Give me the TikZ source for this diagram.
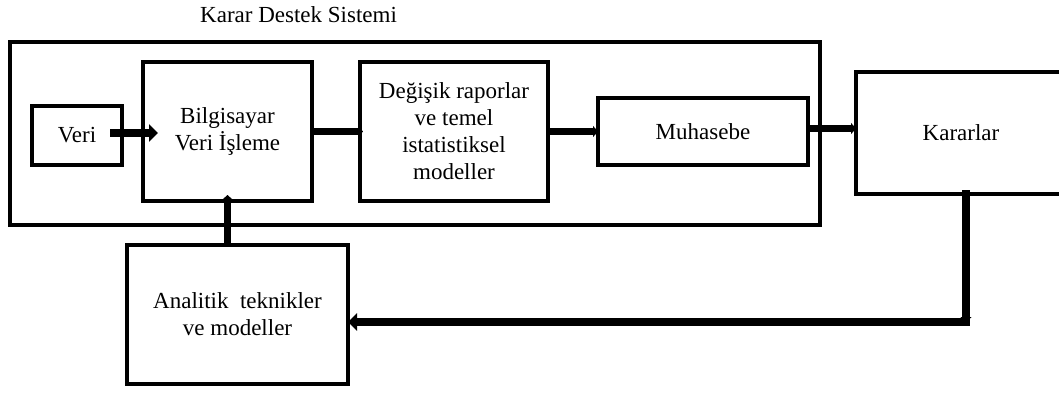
\documentclass[tikz,border=0pt]{standalone}
\usepackage{fontspec}
\setmainfont{Liberation Serif}
\usetikzlibrary{arrows.meta,calc}
\begin{document}
\begin{tikzpicture}[x=1pt,y=-1pt,
  every node/.style={font=\fontsize{23}{27}\selectfont},
  blk/.style={draw,line width=4pt,inner sep=0pt,outer sep=0pt,align=center},
  conn/.style={line width=7.5pt},
  arr/.style={conn,-{Triangle[length=9pt,width=17pt]}},
  smallarr/.style={conn,-{Triangle[length=5pt,width=11pt]}}]
\useasboundingbox (0,0) rectangle (1059,392);
\node[anchor=base west,inner sep=0pt] (title) at (200,22) {Karar Destek Sistemi};
\node[blk,minimum width=810,minimum height=183] (dss) at (415,133.5) {};
\node[blk,minimum width=90,minimum height=59] (veri) at (77,135.5) {Veri};
\node[blk,minimum width=169,minimum height=139] (bilg) at (227.5,131.5) {Bilgisayar\\Veri İşleme};
\node[blk,minimum width=188,minimum height=139] (deg) at (454,131.5) {Değişik raporlar\\ve temel\\istatistiksel\\modeller};
\node[blk,minimum width=210,minimum height=67] (muh) at (703,131.5) {Muhasebe};
\node[blk,minimum width=210,minimum height=122] (kar) at (961,133) {Kararlar};
\node[blk,minimum width=221,minimum height=139] (ana) at (237.5,314.5) {Analitik~ teknikler\\ve modeller};
\coordinate (corner) at (966,322);
\draw[arr,shorten <=-12pt,shorten >=-15pt] ([yshift=2.5pt]veri.east) -- ([yshift=2.5pt]veri.east -| bilg.west);
\draw[smallarr,shorten >=-3pt] (bilg.east) -- (bilg.east -| deg.west);
\draw[smallarr] (deg.east) -- (deg.east -| muh.west);
\draw[smallarr] ([yshift=3pt]muh.east) -- ([yshift=3pt]muh.east -| kar.west);
\draw[smallarr,shorten >=-6pt] (bilg.south |- ana.north) -- (bilg.south);
\draw[smallarr,shorten <=-4pt] (corner |- kar.south) -- (corner);
\draw[arr] ([xshift=3.5pt]corner) -- (corner -| ana.east);
\end{tikzpicture}
\end{document}
